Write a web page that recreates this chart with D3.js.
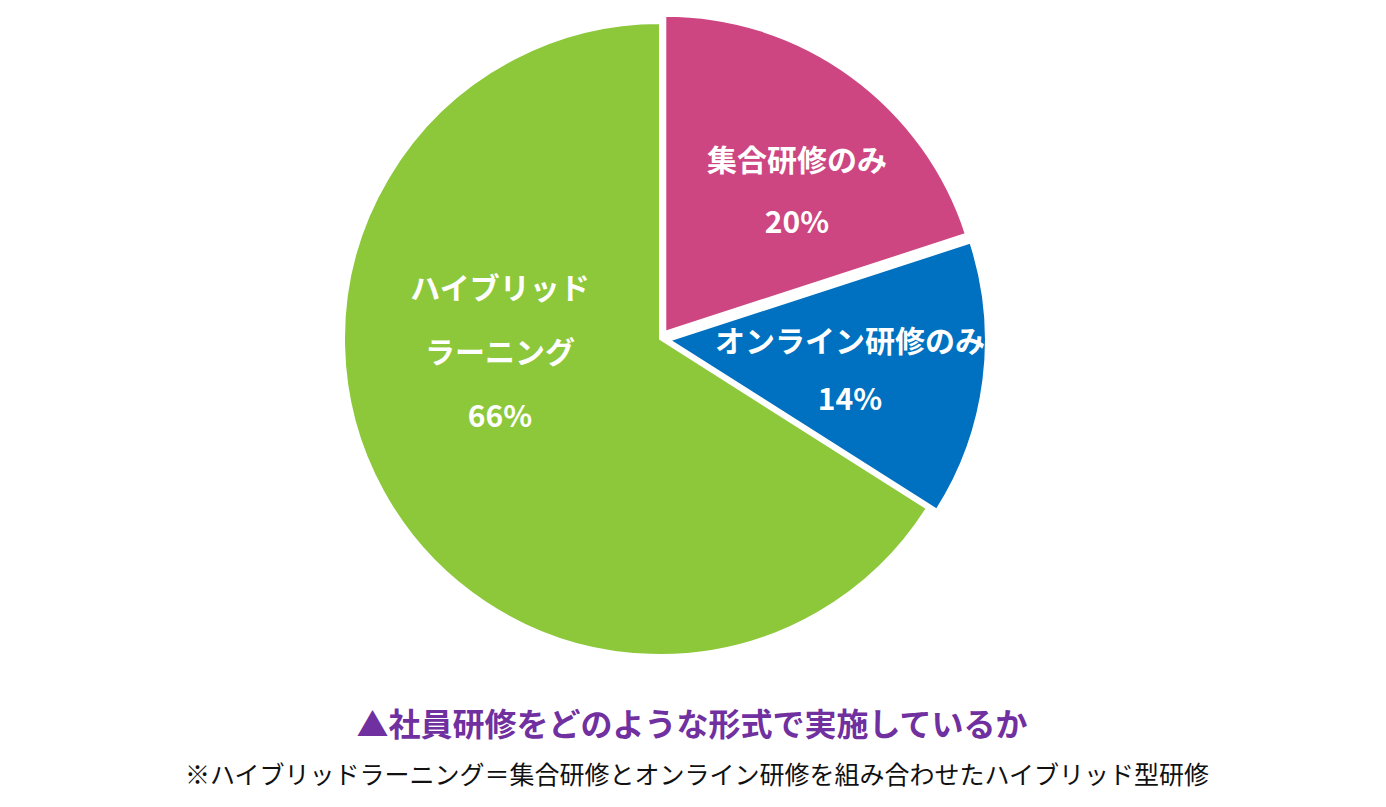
<!DOCTYPE html>
<html><head><meta charset="utf-8">
<script src="https://cdn.jsdelivr.net/npm/d3@7"></script>
<style>body{margin:0;background:#fff;} svg{display:block;}</style>
</head><body>
<svg id="c" width="1386" height="807"></svg>
<script>
const categories = ["集合研修のみ", "オンライン研修のみ", "ハイブリッドラーニング"];
const values = [20, 14, 66];
const labelLines = [["集合研修のみ", "20%"], ["オンライン研修のみ", "14%"], ["ハイブリッド", "ラーニング", "66%"]];
const colors = ["#CD4681", "#0070C0", "#8CC83A"];
const explode = [9, 10, 0];
const title = "▲社員研修をどのような形式で実施しているか";
const note = "※ハイブリッドラーニング＝集合研修とオンライン研修を組み合わせたハイブリッド型研修";

const svg = d3.select("#c");
const cx = 660, cy = 339, r = 316;
const font = "'Noto Sans CJK JP', 'Noto Sans', sans-serif";

const pie = d3.pie().sort(null).value(d => d)(values);
const arc = d3.arc().innerRadius(0).outerRadius(r);
const g = svg.append("g").attr("transform", `translate(${cx},${cy})`);

g.selectAll("path").data(pie).enter().append("path")
  .attr("d", arc)
  .attr("fill", (d, i) => colors[i])
  .attr("stroke", "#fff").attr("stroke-width", 2)
  .attr("transform", (d, i) => {
    const a = (d.startAngle + d.endAngle) / 2;
    return `translate(${Math.sin(a) * explode[i]},${-Math.cos(a) * explode[i]})`;
  });

// label positions (centers) relative to pie center
const labelPos = [[137, -150], [190, 29], [-160, 11]];
const lineGap = [62, 58, 64];
labelLines.forEach((lines, i) => {
  const [lx, ly] = labelPos[i];
  const n = lines.length;
  lines.forEach((t, j) => {
    g.append("text")
      .attr("x", lx)
      .attr("y", ly + (j - (n - 1) / 2) * lineGap[i])
      .attr("text-anchor", "middle")
      .attr("dominant-baseline", "central")
      .attr("fill", "#fff")
      .attr("font-family", font)
      .attr("font-weight", "bold")
      .attr("font-size", 30)
      .text(t);
  });
});

svg.append("text").attr("x", 692).attr("y", 722)
  .attr("text-anchor", "middle").attr("dominant-baseline", "central")
  .attr("fill", "#7030A0").attr("font-family", font).attr("font-weight", "bold")
  .attr("font-size", 32).text(title);

svg.append("text").attr("x", 697).attr("y", 773)
  .attr("text-anchor", "middle").attr("dominant-baseline", "central")
  .attr("fill", "#111").attr("font-family", font)
  .attr("font-size", 25).text(note);
</script>
</body></html>
